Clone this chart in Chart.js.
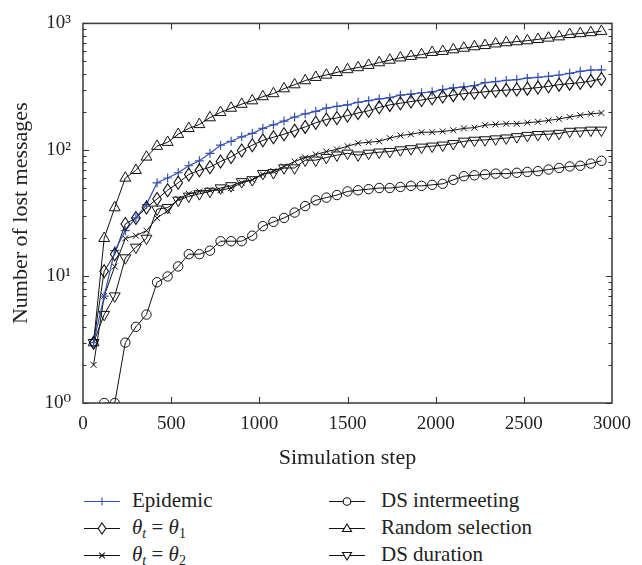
<!DOCTYPE html>
<html><head><meta charset="utf-8">
<script src="https://cdn.jsdelivr.net/npm/chart.js@4.4.1/dist/chart.umd.min.js"></script>
<style>
html,body{margin:0;padding:0;background:#fff;}
#wrap{position:relative;width:642px;height:565px;font-family:'Liberation Serif','DejaVu Serif',serif;overflow:hidden;}
#cbox{position:absolute;left:0;top:0;width:642px;height:480px;}
.leg{position:absolute;font-size:21px;color:#222;line-height:22px;white-space:nowrap;font-family:'Liberation Serif','DejaVu Serif',serif;}
.leg sub{font-size:14px;vertical-align:-4px;line-height:0;}
.sw{position:absolute;}
</style></head><body>
<div id="wrap"><div id="cbox"><canvas id="c" width="642" height="480"></canvas></div><div id="legend"></div></div>
<script>
// ---------- data ----------
const steps = [60,120,180,240,300,360,420,480,540,600,660,720,780,840,900,960,1020,1080,1140,1200,1260,1320,1380,1440,1500,1560,1620,1680,1740,1800,1860,1920,1980,2040,2100,2160,2220,2280,2340,2400,2460,2520,2580,2640,2700,2760,2820,2880,2940];
const epidemic = [3,7,16,23,29,37,55,60,66,75,82,94,109,117,127,135,148,158,169,182,193,202,214,221,227,238,245,253,259,271,276,283,288,300,309,315,322,340,347,354,360,369,375,382,391,403,418,427,430];
const theta1 = [3,11,15,26,29,35,41,48,55,64,69,73,81,88,99,109,119,126,133,142,152,164,174,179,187,196,204,217,227,234,241,248,256,264,271,279,283,288,293,297,300,305,311,318,328,334,340,350,364];
const theta2 = [2,7,12,20,21,23,29,33,41,45,47,48,48,50,55,58,64,68,74,81,87,92,97,101,107,113,115,117,124,130,133,138,138,140,143,148,150,157,159,161,161,164,167,171,176,182,188,193,196];
const dsIntermeeting = [null,1,1,3,4,5,9,10,12,15,15,16,19,19,19,21,25,27,29,32,36,40,42,44,47,48,49,50,50,51,52,52,53,54,58,62,63,64,65,65,66,67,68,70,72,74,75,78,82];
const randomSel = [3,20,35,60,69,88,107,115,133,148,159,180,198,214,230,245,264,279,305,328,353,375,391,410,432,448,467,490,513,535,550,567,591,602,620,638,655,670,690,705,718,731,748,767,785,819,832,847,867];
const dsDuration = [3,5,7,14,17,20,34,35,40,43,45,47,50,52,56,58,65,66,72,72,83,83,87,91,94,91,94,96,97,100,102,105,107,109,112,117,119,120,122,124,127,130,132,133,135,140,141,143,143];
const seriesNames = ['Epidemic','θt = θ1','θt = θ2','DS intermeeting','Random selection','DS duration'];
const legendHtml = ['Epidemic','<i>θ</i><sub><i>t</i></sub> = <i>θ</i><sub>1</sub>','<i>θ</i><sub><i>t</i></sub> = <i>θ</i><sub>2</sub>','DS intermeeting','Random selection','DS duration'];
const xTickValues = [0,500,1000,1500,2000,2500,3000];
const xTickLabels = ['0','500','1000','1500','2000','2500','3000'];
const yTickValues = [1,10,100,1000];
const yTickLabels = ['10⁰','10¹','10²','10³'];
const xTitle = 'Simulation step';
const yTitle = 'Number of lost messages';

// ---------- styling ----------
const FONT = "'Liberation Serif', 'DejaVu Serif', serif";
const BLUE = '#3552b0';
const INK = '#111';

const seriesValues = [epidemic,theta1,theta2,dsIntermeeting,randomSel,dsDuration];
const seriesColor = [BLUE,INK,INK,INK,INK,INK];
const pointStyles = ['cross','rectRot','crossRot','circle','triangle','triangle'];
const pointRadii = [4.5,0,4.2,4.7,6.3,6.3];
const pointRot = [0,0,0,0,0,180];
const DIAMOND_SERIES = 1;

const datasets = seriesValues.map((vals,i)=>({
  label: seriesNames[i],
  data: steps.map((x,k)=>({x:x,y:vals[k]})),
  borderColor: seriesColor[i],
  borderWidth: i===0?1.2:1,
  pointStyle: pointStyles[i],
  pointRadius: pointRadii[i],
  pointHoverRadius: pointRadii[i],
  pointRotation: pointRot[i],
  pointBorderColor: seriesColor[i],
  pointBorderWidth: i===0?1.2:1,
  pointBackgroundColor: 'rgba(0,0,0,0)',
  backgroundColor: 'rgba(0,0,0,0)',
  fill:false, tension:0, spanGaps:false
}));

// tall diamond markers, placed at the library's computed point positions
const diamondPlugin = {
  id:'diamonds',
  afterDatasetsDraw(chart){
    const meta=chart.getDatasetMeta(DIAMOND_SERIES), g=chart.ctx;
    g.save(); g.strokeStyle=INK; g.lineWidth=1.1;
    meta.data.forEach(pt=>{
      if(pt.skip) return;
      const x=pt.x,y=pt.y;
      g.beginPath(); g.moveTo(x,y-6.5); g.lineTo(x+4.3,y); g.lineTo(x,y+6.5); g.lineTo(x-4.3,y); g.closePath(); g.stroke();
    });
    g.restore();
  }
};

const framePlugin = {
  id:'frame',
  afterDraw(chart){
    const g=chart.ctx, a=chart.chartArea, xs=chart.scales.x, ys=chart.scales.y;
    g.save();
    g.strokeStyle='#444'; g.lineWidth=1.6;
    g.strokeRect(a.left,a.top,a.right-a.left,a.bottom-a.top);
    g.lineWidth=1.1; g.strokeStyle='#333';
    g.beginPath();
    xTickValues.forEach(v=>{const p=Math.round(xs.getPixelForValue(v))+0.5;
      if(v>xTickValues[0]&&v<xTickValues[xTickValues.length-1]){g.moveTo(p,a.bottom);g.lineTo(p,a.bottom-6);g.moveTo(p,a.top);g.lineTo(p,a.top+6);}});
    yTickValues.forEach(v=>{const p=Math.round(ys.getPixelForValue(v))+0.5;
      g.moveTo(a.left,p);g.lineTo(a.left+6,p);g.moveTo(a.right,p);g.lineTo(a.right-6,p);});
    for(let d=1; d<1000; d*=10){for(let m=2;m<=9;m++){const p=Math.round(ys.getPixelForValue(m*d))+0.5;
      g.moveTo(a.left,p);g.lineTo(a.left+3.5,p);g.moveTo(a.right,p);g.lineTo(a.right-3.5,p);}}
    g.stroke();
    g.restore();
  }
};

new Chart(document.getElementById('c'),{
  type:'line',
  data:{datasets:datasets},
  options:{
    responsive:false, devicePixelRatio:1, animation:false,
    layout:{padding:{top:14,right:30,left:0,bottom:0}},
    plugins:{legend:{display:false},tooltip:{enabled:false}},
    scales:{
      x:{type:'linear',min:0,max:3000,
        afterBuildTicks:s=>{s.ticks=xTickValues.map(v=>({value:v}));},
        afterFit:s=>{s.height=77;},
        ticks:{autoSkip:false,maxRotation:0,padding:10,color:'#222',font:{family:FONT,size:19},
          callback:v=>xTickLabels[xTickValues.indexOf(v)]},
        grid:{display:false,drawTicks:false}, border:{display:false},
        title:{display:true,text:xTitle,color:'#222',font:{family:FONT,size:22},padding:{top:0,bottom:9}}
      },
      y:{type:'logarithmic',min:1,max:1000,
        afterBuildTicks:s=>{s.ticks=yTickValues.map(v=>({value:v}));},
        afterFit:s=>{s.width=83;},
        ticks:{autoSkip:false,padding:12,color:'#222',font:{family:FONT,size:19},
          callback:v=>yTickLabels[yTickValues.indexOf(v)]},
        grid:{display:false,drawTicks:false}, border:{display:false},
        title:{display:true,text:yTitle,color:'#222',font:{family:FONT,size:22},padding:{top:8,bottom:0}}
      }
    }
  },
  plugins:[diamondPlugin,framePlugin]
});

// ---------- legend ----------
function drawMarker(g,type,x,y,color){
  g.save();g.strokeStyle=color;g.lineWidth=1.1;g.beginPath();
  if(type===0){g.moveTo(x,y-4);g.lineTo(x,y+4);g.moveTo(x-4,y);g.lineTo(x+4,y);}
  else if(type===1){g.moveTo(x,y-5.5);g.lineTo(x+3.8,y);g.lineTo(x,y+5.5);g.lineTo(x-3.8,y);g.closePath();}
  else if(type===2){g.moveTo(x-2.8,y-2.8);g.lineTo(x+2.8,y+2.8);g.moveTo(x+2.8,y-2.8);g.lineTo(x-2.8,y+2.8);}
  else if(type===3){g.arc(x,y,3.8,0,Math.PI*2);}
  else if(type===4){g.moveTo(x,y-4.5);g.lineTo(x+4.5,y+3);g.lineTo(x-4.5,y+3);g.closePath();}
  else if(type===5){g.moveTo(x,y+4.5);g.lineTo(x+4.5,y-3);g.lineTo(x-4.5,y-3);g.closePath();}
  if(type===1||type===3||type===4||type===5){g.fillStyle='#fff';g.fill();}
  g.stroke();g.restore();
}
const legCols = [{lineX:84,textX:132},{lineX:329,textX:381}];
const legRows = [501,528,555];
const legend = document.getElementById('legend');
seriesNames.forEach((n,i)=>{
  const col=legCols[Math.floor(i/3)], rowY=legRows[i%3];
  const sw=document.createElement('canvas'); sw.width=36; sw.height=20; sw.className='sw';
  sw.style.left=col.lineX+'px'; sw.style.top=(rowY-10)+'px';
  const g=sw.getContext('2d');
  g.strokeStyle=seriesColor[i]; g.lineWidth=i===0?1.2:1.1;
  g.beginPath(); g.moveTo(0,10.5); g.lineTo(36,10.5); g.stroke();
  drawMarker(g,i,18,10.5,seriesColor[i]);
  legend.appendChild(sw);
  const t=document.createElement('div'); t.className='leg';
  t.style.left=col.textX+'px'; t.style.top=(rowY-12)+'px';
  t.innerHTML=legendHtml[i];
  legend.appendChild(t);
});
</script>
</body></html>
